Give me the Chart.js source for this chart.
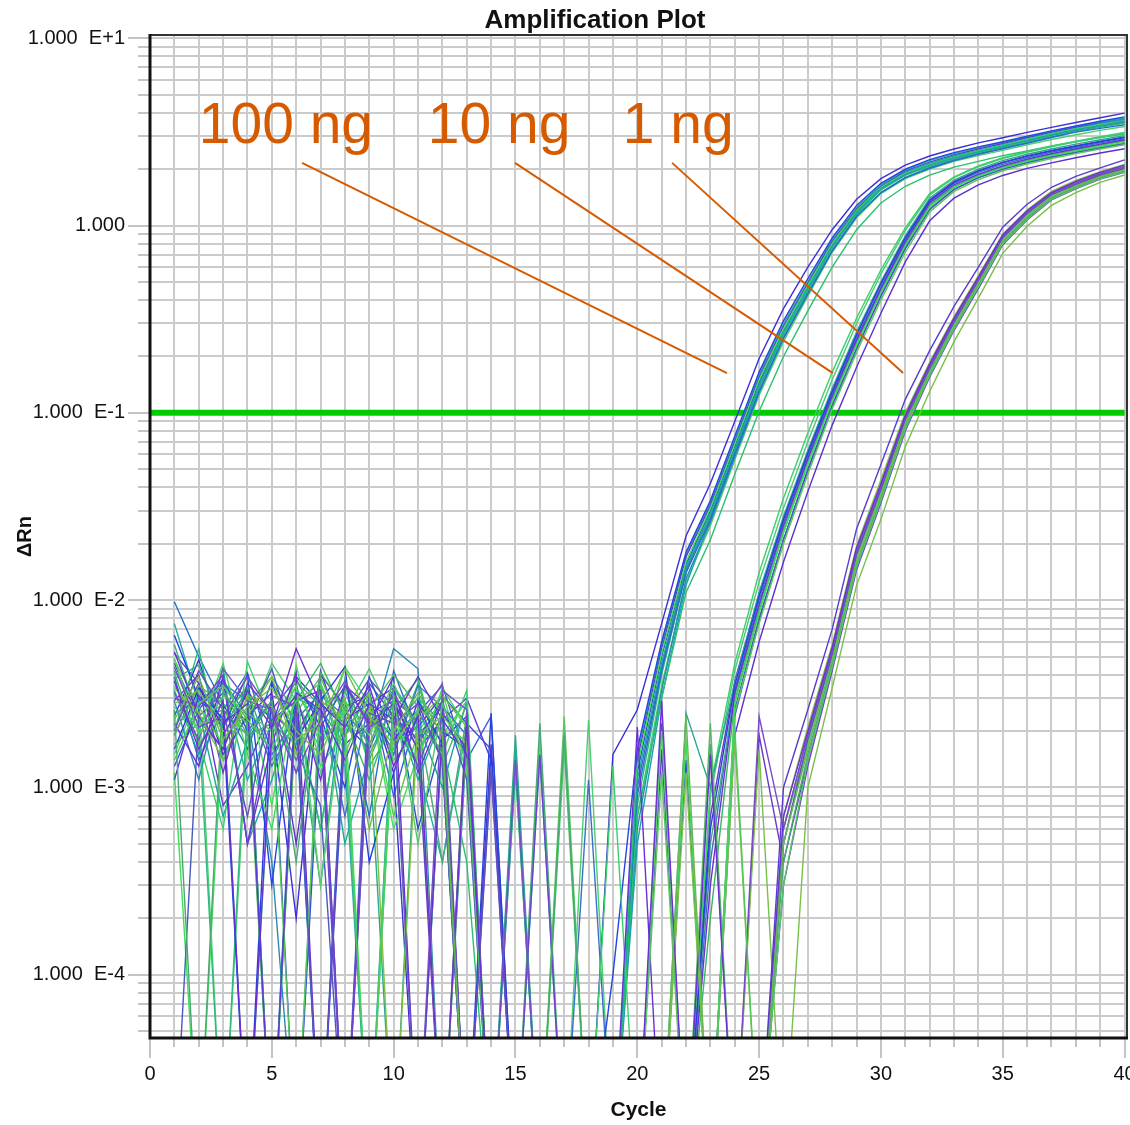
<!DOCTYPE html>
<html>
<head>
<meta charset="utf-8">
<script src="https://cdn.jsdelivr.net/npm/chart.js@4.4.1/dist/chart.umd.min.js"></script>
<style>
  html, body { margin: 0; padding: 0; background: #ffffff; }
  #wrap { width: 1130px; height: 1125px; position: relative; }
</style>
</head>
<body>
<div id="wrap"><canvas id="c"></canvas></div>
<script>
// ---------------- data ----------------
const z = 1e-5; // ΔRn at or below zero: falls below the log axis

const cycles = [1,2,3,4,5,6,7,8,9,10,11,12,13,14,15,16,17,18,19,20,
                21,22,23,24,25,26,27,28,29,30,31,32,33,34,35,36,37,38,39,40];

// 100 ng wells
const ng100 = [
 [4.2e-3,2.6e-3,7e-4,1.8e-3,2.9e-3,1.2e-3,3.4e-3,5e-4,1.5e-3,2.8e-3, 1.1e-3,2.4e-3,z,z,1.6e-3,z,z,z,z,1.1e-3, 4.6e-3,.015,.029,.064,.14,.27,.46,.78,1.18,1.58, 1.88,2.1,2.3,2.48,2.65,2.85,3.05,3.25,3.42,3.6],
 [2e-3,5.5e-3,1.4e-3,2.5e-3,z,2.7e-3,6e-4,3.6e-3,1.3e-3,2.1e-3, 3e-3,1.7e-3,4e-4,z,z,z,z,z,z,7e-4, 3e-3,.011,.021,.047,.102,.2,.35,.6,.95,1.32, 1.62,1.86,2.05,2.2,2.36,2.5,2.66,2.8,2.95,3.08],
 [6.5e-3,3e-3,2.1e-3,4e-3,3e-4,3.3e-3,2.4e-3,1e-3,3.9e-3,1.8e-3, 2.6e-3,1.4e-3,z,2.5e-3,z,z,z,z,1e-4,1.6e-3, 6e-3,.018,.034,.075,.165,.31,.52,.86,1.28,1.68, 2.0,2.25,2.45,2.63,2.8,3.0,3.2,3.4,3.6,3.8],
 [1.2e-3,z,2.3e-3,3.5e-3,8e-4,4.5e-3,1.3e-3,2e-3,3e-3,6e-4, 1.5e-3,3.2e-3,1.2e-3,z,z,1.8e-3,z,z,z,1.3e-3, 5.2e-3,.016,.031,.068,.15,.28,.48,.8,1.2,1.6, 1.9,2.12,2.32,2.5,2.68,2.88,3.08,3.28,3.45,3.62],
 [9.8e-3,5e-3,2.8e-3,1.6e-3,3.7e-3,2.2e-3,z,2.9e-3,7e-4,4.2e-3, 1.9e-3,2.7e-3,z,z,z,z,z,z,z,9e-4, 4.2e-3,.014,.027,.06,.13,.25,.43,.73,1.12,1.5, 1.8,2.02,2.22,2.4,2.57,2.75,2.95,3.15,3.3,3.45],
 [3.3e-3,1.5e-3,4.4e-3,5e-4,1.1e-3,3e-3,2.6e-3,1.7e-3,z,3.5e-3, 2.2e-3,1e-3,2.9e-3,z,z,z,2e-3,z,z,5e-4, 3e-3,.012,.027,.062,.14,.27,.47,.79,1.2,1.6, 1.92,2.15,2.35,2.52,2.7,2.9,3.1,3.3,3.5,3.68],
 [2.4e-3,4.8e-3,1.9e-3,3.2e-3,2.3e-3,2e-4,4e-3,2.7e-3,3.1e-3,1.2e-3, z,2e-3,1.6e-3,z,z,z,z,z,1.5e-3,2.6e-3, 7.5e-3,.022,.042,.09,.195,.36,.6,.95,1.38,1.78, 2.1,2.35,2.56,2.76,2.94,3.14,3.34,3.55,3.76,3.98],
 [1.7e-3,2.2e-3,z,2.8e-3,3.9e-3,2.5e-3,6e-4,3.4e-3,2.3e-3,1.6e-3, 3.6e-3,1.3e-3,z,z,1.2e-3,z,z,z,z,8e-4, 4e-3,.014,.028,.062,.135,.26,.45,.76,1.15,1.55, 1.85,2.08,2.28,2.45,2.62,2.8,3.0,3.18,3.35,3.52],
 [5.2e-3,3.6e-3,8e-4,1.3e-3,2.6e-3,3.8e-3,2.1e-3,z,2.5e-3,2.9e-3, 1.6e-3,2.3e-3,3e-3,1.4e-3,z,z,z,z,z,1.4e-3, 5.5e-3,.017,.032,.07,.155,.29,.49,.82,1.22,1.62, 1.95,2.18,2.38,2.56,2.74,2.94,3.14,3.34,3.52,3.7],
 [2.9e-3,1.1e-3,3.7e-3,2.4e-3,4e-4,z,3.1e-3,2.4e-3,1.9e-3,5.5e-3, 4.3e-3,z,1.8e-3,z,z,z,z,z,z,6e-4, 3.3e-3,.013,.026,.058,.128,.25,.44,.74,1.12,1.5, 1.8,2.04,2.24,2.42,2.6,2.78,2.98,3.18,3.36,3.55],
 [3.9e-3,1.4e-3,2.6e-3,4.1e-3,1.5e-3,2.4e-3,z,1.9e-3,3.3e-3,9e-4, 2.5e-3,3.5e-3,1.4e-3,2.4e-3,z,z,z,z,z,1e-3, 4.4e-3,.0145,.028,.061,.135,.26,.45,.77,1.16,1.56, 1.86,2.08,2.28,2.46,2.63,2.82,3.02,3.2,3.38,3.56],
 [7.5e-3,2.8e-3,3.5e-3,1.1e-3,2.2e-3,1.7e-3,3.6e-3,1.3e-3,z,2.2e-3, 1.3e-3,4e-4,2.1e-3,z,z,1.5e-3,z,z,z,1.5e-3, 5.8e-3,.0175,.033,.072,.16,.3,.5,.84,1.25,1.65, 1.98,2.22,2.42,2.6,2.78,2.97,3.17,3.37,3.56,3.76],
 [1.5e-3,3.2e-3,z,2.1e-3,4.6e-3,2.9e-3,1.6e-3,4.4e-3,2.8e-3,1.4e-3, 2e-3,2.9e-3,z,z,z,z,z,2.3e-3,z,7e-4, 3.5e-3,.0125,.025,.056,.124,.24,.42,.72,1.1,1.48, 1.78,2.0,2.2,2.36,2.52,2.7,2.88,3.05,3.22,3.38],
 [4.6e-3,2.3e-3,1.6e-3,3.4e-3,z,3.9e-3,2.8e-3,2.2e-3,1.6e-3,3.3e-3, 6e-4,1.8e-3,2.4e-3,z,1.3e-3,z,z,z,z,1.2e-3, 5e-3,.0155,.03,.066,.145,.275,.47,.79,1.19,1.59, 1.9,2.12,2.32,2.5,2.67,2.86,3.06,3.26,3.44,3.62]
];

// 10 ng wells
const ng10 = [
 [3.1e-3,2e-3,4.6e-3,1.5e-3,6e-4,3.3e-3,1.9e-3,2.6e-3,z,2.2e-3, 1.4e-3,3.4e-3,2.1e-3,z,z,z,z,z,z,z, z,1.8e-3,z,2.8e-3,8.5e-3,.023,.053,.115,.23,.44, .78,1.25,1.6,1.83,2.03,2.2,2.36,2.5,2.64,2.78],
 [1.6e-3,3.4e-3,2.3e-3,z,3.6e-3,1.8e-3,2.9e-3,4.4e-3,4e-4,1.2e-3, 2.9e-3,1.7e-3,z,1.5e-3,z,z,z,z,z,z, z,z,6e-4,3.5e-3,.0105,.027,.061,.13,.26,.49, .86,1.36,1.7,1.95,2.16,2.34,2.5,2.65,2.8,2.95],
 [4.8e-3,2.7e-3,1.7e-3,3e-3,2.4e-3,z,3.5e-3,1.5e-3,3.2e-3,7e-4, 2e-3,z,2.6e-3,z,z,z,2.4e-3,z,z,z, 1.2e-3,z,z,2.5e-3,7.5e-3,.02,.047,.105,.21,.4, .72,1.18,1.52,1.76,1.96,2.13,2.28,2.42,2.56,2.7],
 [2.2e-3,1.3e-3,3.9e-3,5e-4,1.7e-3,4.1e-3,z,2.3e-3,2.8e-3,3.4e-3, 1.2e-3,2.5e-3,1.6e-3,z,z,z,z,z,z,2.1e-3, z,z,3e-4,3.2e-3,9.5e-3,.025,.057,.123,.245,.46, .82,1.32,1.65,1.88,2.08,2.26,2.42,2.57,2.72,2.87],
 [3.8e-3,4.5e-3,2.1e-3,3.3e-3,1.4e-3,2.6e-3,3e-4,3.8e-3,1.6e-3,z, 3e-3,2.2e-3,z,z,1.9e-3,z,z,z,z,z, z,2.5e-3,1e-3,3.6e-3,.011,.028,.063,.135,.27,.5, .88,1.4,1.75,2.0,2.22,2.4,2.56,2.72,2.87,3.02],
 [z,2.4e-3,3.2e-3,2.2e-3,4.3e-3,1.6e-3,8e-4,z,3.6e-3,2.4e-3, 1.8e-3,2.9e-3,1.1e-3,z,z,z,z,z,z,z, z,z,z,2.6e-3,8e-3,.021,.049,.108,.22,.42, .75,1.22,1.56,1.8,2.0,2.17,2.32,2.46,2.6,2.74],
 [2.7e-3,1.8e-3,6e-4,4.7e-3,2.2e-3,3.1e-3,1.2e-3,2.8e-3,2.5e-3,1.9e-3, 2.5e-3,1.5e-3,3.3e-3,z,z,z,z,z,1.3e-3,z, z,z,1e-3,4.6e-3,.014,.035,.078,.165,.32,.58, .97,1.48,1.82,2.08,2.3,2.48,2.65,2.82,2.98,3.14],
 [1.9e-3,3.6e-3,1.5e-3,2.4e-3,3.2e-3,5e-4,4.2e-3,1.7e-3,2.2e-3,3.9e-3, z,2.1e-3,z,1.7e-3,z,z,z,z,z,z, 1.6e-3,z,z,1.9e-3,6e-3,.016,.038,.086,.175,.34, .64,1.06,1.4,1.65,1.85,2.02,2.16,2.3,2.44,2.57],
 [5.8e-3,2.3e-3,2.6e-3,1.9e-3,2.2e-3,3.7e-3,2.7e-3,3.3e-3,1.4e-3,2.9e-3, 2.3e-3,4e-4,2.4e-3,z,z,2.2e-3,z,z,z,z, z,z,5e-4,3.1e-3,9.2e-3,.024,.056,.12,.24,.45, .8,1.3,1.62,1.86,2.06,2.24,2.4,2.55,2.7,2.85],
 [2.5e-3,2.9e-3,3.6e-3,2.9e-3,1.3e-3,2.3e-3,3.2e-3,7e-4,2.9e-3,1.5e-3, 3.5e-3,2.7e-3,1.9e-3,z,z,z,z,1.1e-3,z,z, z,z,4e-4,3.3e-3,.01,.026,.059,.127,.25,.47, .84,1.34,1.68,1.92,2.12,2.3,2.46,2.61,2.76,2.9],
 [2.9e-3,4e-3,1.2e-3,3.6e-3,2.5e-3,1.9e-3,3.4e-3,z,2.1e-3,3.1e-3, 1.7e-3,2.8e-3,z,z,z,z,z,z,z,z, 2.2e-3,z,7e-4,3.7e-3,.0108,.027,.062,.132,.265,.49, .86,1.37,1.72,1.97,2.18,2.36,2.52,2.67,2.82,2.97],
 [4.1e-3,1.7e-3,2.4e-3,3.4e-3,z,2.9e-3,4.6e-3,2.4e-3,1.1e-3,2.6e-3, 3.8e-3,1.3e-3,2.8e-3,z,z,z,z,z,z,z, z,z,2e-4,2.9e-3,8.8e-3,.023,.054,.117,.235,.445, .79,1.28,1.61,1.85,2.05,2.22,2.38,2.53,2.68,2.82],
 [1.3e-3,2.6e-3,3.8e-3,2e-3,2.9e-3,z,2.1e-3,3.5e-3,2.7e-3,1.8e-3, 2.1e-3,3.1e-3,2.2e-3,1.6e-3,z,z,z,z,z,z, z,1.4e-3,z,2.4e-3,7.8e-3,.021,.05,.11,.22,.42, .76,1.22,1.56,1.8,2.0,2.17,2.32,2.46,2.6,2.74],
 [3.5e-3,2.2e-3,2.8e-3,z,1.9e-3,3.5e-3,1.7e-3,2.5e-3,4.3e-3,2.3e-3, z,1.9e-3,2.9e-3,z,z,z,1.6e-3,z,z,z, z,z,9e-4,4.2e-3,.0125,.031,.07,.15,.3,.55, .94,1.45,1.8,2.06,2.28,2.46,2.63,2.8,2.96,3.12]
];

// 1 ng wells
const ng1 = [
 [2.3e-3,3.9e-3,1.8e-3,2.7e-3,3.4e-3,2e-3,1.5e-3,3e-3,6e-4,2e-3, 3.2e-3,1.9e-3,z,z,z,z,z,z,z,z, z,2.4e-3,z,z,z,5e-4,1.6e-3,4.8e-3,.016,.036, .086,.165,.29,.49,.83,1.12,1.42,1.62,1.82,1.98],
 [3.7e-3,1.6e-3,2.9e-3,z,2.1e-3,5.5e-3,2.8e-3,2.1e-3,3.5e-3,1.3e-3, 2.4e-3,z,2.2e-3,z,z,z,z,z,z,z, 2.9e-3,z,1.5e-3,z,z,7e-4,2e-3,5.6e-3,.019,.042, .097,.182,.32,.53,.89,1.2,1.5,1.72,1.92,2.1],
 [1.4e-3,2.8e-3,3.5e-3,2.3e-3,1.6e-3,2.9e-3,3.6e-3,1.8e-3,z,3.1e-3, 5e-4,2.8e-3,1.4e-3,z,z,z,z,z,z,z, z,z,z,2.1e-3,z,3e-4,1.4e-3,4.4e-3,.015,.034, .082,.158,.28,.47,.8,1.08,1.38,1.58,1.78,1.93],
 [4.4e-3,2.1e-3,2.4e-3,3.9e-3,2.5e-3,1.2e-3,2.3e-3,3.7e-3,2.1e-3,2.5e-3, z,3.3e-3,2.6e-3,z,1.4e-3,z,z,z,z,z, z,z,z,z,2.4e-3,6e-4,1.9e-3,5.3e-3,.018,.04, .094,.176,.31,.51,.87,1.17,1.47,1.68,1.88,2.05],
 [2.6e-3,z,3.3e-3,1.9e-3,2.9e-3,4e-4,4.1e-3,2.6e-3,1.7e-3,3.4e-3, 2.1e-3,1.6e-3,z,z,z,z,1.9e-3,z,z,z, z,z,1.7e-3,z,z,4e-4,1.5e-3,4.6e-3,.0155,.035, .084,.16,.285,.48,.82,1.1,1.4,1.6,1.8,1.95],
 [1.1e-3,3.1e-3,2.2e-3,2.8e-3,z,3.2e-3,2.6e-3,1.4e-3,2.8e-3,2.3e-3, 3.9e-3,2.3e-3,1.5e-3,z,z,z,z,z,z,z, z,z,z,z,z,1e-3,2.6e-3,7e-3,.024,.053, .118,.215,.37,.6,.98,1.3,1.6,1.83,2.03,2.24],
 [3.4e-3,2.5e-3,1.4e-3,3.1e-3,2.7e-3,1.8e-3,2.2e-3,4.3e-3,2.4e-3,1.7e-3, 2.6e-3,z,2e-3,z,z,z,z,z,z,z, z,1.2e-3,z,z,1.6e-3,z,1e-3,3.4e-3,.012,.027, .066,.13,.24,.41,.71,.99,1.28,1.5,1.7,1.86],
 [2e-3,4.2e-3,2.6e-3,7e-4,3.1e-3,2.7e-3,z,2.4e-3,3.8e-3,2.7e-3, 1.3e-3,2.9e-3,z,1.2e-3,z,z,z,z,z,z, z,z,z,z,z,5e-4,1.8e-3,5.1e-3,.0175,.039, .092,.172,.305,.51,.86,1.16,1.46,1.66,1.86,2.02],
 [4.9e-3,1.9e-3,3.1e-3,2.5e-3,2e-3,3.5e-3,3e-4,2.9e-3,1.9e-3,3.6e-3, 1.9e-3,2.4e-3,1.7e-3,z,z,z,z,z,z,z, 2e-3,z,z,z,z,6e-4,1.7e-3,5e-3,.017,.038, .09,.17,.3,.5,.85,1.15,1.45,1.66,1.87,2.04],
 [3e-3,2.7e-3,4e-3,5e-4,2.3e-3,2.9e-3,3.3e-3,z,2.5e-3,2.2e-3, 2.8e-3,1.4e-3,z,z,z,1.5e-3,z,z,z,z, z,z,z,z,z,3e-4,1.3e-3,4.2e-3,.0145,.033, .08,.155,.275,.46,.79,1.07,1.37,1.57,1.77,1.92],
 [2.8e-3,3.3e-3,2e-3,2.4e-3,3.9e-3,1.5e-3,2.9e-3,2.3e-3,3.2e-3,z, 2.3e-3,3.1e-3,2.1e-3,z,z,z,z,z,z,z, z,z,z,1.8e-3,z,7e-4,2.1e-3,5.8e-3,.0195,.044, .1,.186,.325,.54,.9,1.21,1.52,1.74,1.94,2.12],
 [5.3e-3,2.4e-3,1.6e-3,3.3e-3,2.1e-3,3.1e-3,1.1e-3,3.5e-3,2.2e-3,2.8e-3, 1.6e-3,z,2.5e-3,z,z,z,z,z,z,z, z,z,z,z,1.9e-3,4e-4,1.4e-3,4.4e-3,.015,.034, .082,.158,.28,.47,.8,1.09,1.39,1.59,1.79,1.94],
 [1.9e-3,3.5e-3,2.8e-3,2.2e-3,z,2.5e-3,3.9e-3,1.9e-3,2.6e-3,4e-3, 2.7e-3,2e-3,1.8e-3,z,z,z,z,z,z,z, z,z,2.2e-3,z,z,5e-4,1.7e-3,5e-3,.0168,.037, .088,.168,.298,.5,.85,1.14,1.44,1.64,1.84,2.0],
 [3.2e-3,1.8e-3,4.3e-3,2.9e-3,2.6e-3,1.4e-3,2.7e-3,z,2e-3,3.1e-3, 2.2e-3,3.6e-3,z,1.3e-3,z,z,z,z,z,z, z,z,z,z,z,6e-4,1.9e-3,5.4e-3,.0182,.041, .096,.18,.315,.52,.88,1.18,1.49,1.7,1.9,2.07]
];

const threshold = 0.1;

const annotLabels = ['100 ng', '10 ng', '1 ng'];
const annotTextCycle = [2.0, 11.4, 19.4];
const annotTextDeltaRn = 2.75;
const leaderFromCycle = [6.24, 14.98, 21.43];
const leaderToCycle = [23.68, 28.03, 30.91];
const leaderFromDeltaRn = 2.16;
const leaderToDeltaRn = 0.163;

// ---------------- styles ----------------
const colors100 = ['#1fa89a','#27c26e','#2346e0','#3fe05a','#2270c8','#1c9fb0','#3b2fd8','#30b880','#5d3fd0','#2a88b8','#3560d8','#22b0a0','#4ad070','#2a50c0'];
const colors10  = ['#3fdc5a','#2440e0','#58c858','#6a2fd6','#2aa890','#4a5ac0','#3ad06a','#5a30d0','#48a878','#3a70c8','#6040c8','#38b860','#3550d8','#50c878'];
const colors1   = ['#6ab850','#6a2fd6','#50c860','#7a4ac8','#4aa870','#5a3ad0','#78c048','#6050b8','#58d068','#7040d0','#80c040','#6838c8','#5cb860','#7458c0'];
const annotColor = '#d65a00';
const FONT = '"Liberation Sans", Arial, Helvetica, sans-serif';

function isDecade(v) {
  const l = Math.log10(v);
  return Math.abs(l - Math.round(l)) < 1e-9;
}

const datasets = [];
function addGroup(group, colors) {
  group.forEach((curve, k) => {
    datasets.push({
      data: cycles.map((c, i) => ({ x: c, y: curve[i] })),
      borderColor: colors[k % colors.length],
      borderWidth: 1.4,
      pointRadius: 0,
      tension: 0,
      order: 0
    });
  });
}
addGroup(ng1, colors1);
addGroup(ng10, colors10);
addGroup(ng100, colors100);

datasets.push({
  data: [{ x: 0, y: threshold }, { x: 40, y: threshold }],
  borderColor: '#00cc00', borderWidth: 6, pointRadius: 0, order: 5
});
leaderFromCycle.forEach((c, i) => {
  datasets.push({
    data: [{ x: c, y: leaderFromDeltaRn }, { x: leaderToCycle[i], y: leaderToDeltaRn }],
    borderColor: annotColor, borderWidth: 2, pointRadius: 0, order: -1
  });
});

const extras = {
  id: 'extras',
  afterDatasetsDraw(chart) {
    const { ctx, scales: { x, y } } = chart;
    ctx.save();
    ctx.fillStyle = annotColor;
    ctx.font = '57px ' + FONT;
    ctx.textAlign = 'left';
    ctx.textBaseline = 'alphabetic';
    annotLabels.forEach((t, i) => {
      ctx.fillText(t, x.getPixelForValue(annotTextCycle[i]), y.getPixelForValue(annotTextDeltaRn));
    });
    ctx.restore();
  },
  afterDraw(chart) {
    const { ctx, chartArea: a, scales: { x, y } } = chart;
    ctx.save();
    ctx.strokeStyle = '#c4c4c4';
    ctx.lineWidth = 2;
    ctx.beginPath();
    x.ticks.forEach(t => {
      if (t.value % 5 !== 0) {
        const px = Math.round(x.getPixelForValue(t.value));
        ctx.moveTo(px, a.bottom); ctx.lineTo(px, a.bottom + 9);
      }
    });
    y.ticks.forEach(t => {
      if (!isDecade(t.value)) {
        const py = Math.round(y.getPixelForValue(t.value));
        ctx.moveTo(a.left - 12, py); ctx.lineTo(a.left, py);
      }
    });
    ctx.stroke();
    // frame
    ctx.strokeStyle = '#333';
    ctx.lineWidth = 2;
    ctx.beginPath();
    ctx.moveTo(a.left, a.top); ctx.lineTo(a.right, a.top); ctx.lineTo(a.right, a.bottom);
    ctx.stroke();
    ctx.strokeStyle = '#111';
    ctx.lineWidth = 3;
    ctx.beginPath();
    ctx.moveTo(a.left, a.top - 1); ctx.lineTo(a.left, a.bottom); ctx.lineTo(a.right + 1, a.bottom);
    ctx.stroke();
    // title
    ctx.fillStyle = '#111';
    ctx.font = 'bold 26px ' + FONT;
    ctx.textAlign = 'center';
    ctx.textBaseline = 'alphabetic';
    ctx.fillText('Amplification Plot', 595, 28);
    ctx.restore();
  }
};

new Chart(document.getElementById('c'), {
  type: 'line',
  data: { datasets },
  plugins: [extras],
  options: {
    responsive: true,
    maintainAspectRatio: false,
    animation: false,
    events: [],
    layout: { autoPadding: false, padding: { top: 35, right: 3, left: 0, bottom: 0 } },
    plugins: { legend: { display: false }, tooltip: { enabled: false }, title: { display: false } },
    scales: {
      x: {
        type: 'linear',
        min: 0, max: 40.1,
        afterFit(scale) { scale.height = 87; scale.paddingLeft = 0; scale.paddingRight = 0; },
        border: { display: false },
        grid: {
          color: '#cbcbcb', lineWidth: 2, tickLength: 20,
          tickColor: ctx => (ctx.tick && ctx.tick.value % 5 === 0) ? '#c4c4c4' : 'rgba(0,0,0,0)',
          tickWidth: 2
        },
        ticks: {
          stepSize: 1, autoSkip: false, maxRotation: 0, includeBounds: false,
          padding: 4, color: '#111',
          font: { family: FONT, size: 20 },
          callback: v => (v % 5 === 0 ? String(v) : '')
        },
        title: {
          display: true, text: 'Cycle', color: '#111',
          font: { family: FONT, size: 21, weight: 'bold' },
          padding: { top: 0, bottom: 2 }
        }
      },
      y: {
        type: 'logarithmic',
        min: 4.6e-5, max: 10.4,
        afterFit(scale) { scale.width = 150; scale.paddingTop = 0; scale.paddingBottom = 0; },
        afterBuildTicks(scale) {
          const t = [];
          for (let e = -5; e <= 1; e++) {
            for (let m = 1; m <= 9; m++) {
              const v = m * Math.pow(10, e);
              if (v >= scale.min && v <= scale.max) t.push({ value: v });
            }
          }
          scale.ticks = t;
        },
        border: { display: false },
        grid: {
          color: '#cbcbcb', lineWidth: 2, tickLength: 22,
          tickColor: ctx => (ctx.tick && isDecade(ctx.tick.value)) ? '#c4c4c4' : 'rgba(0,0,0,0)',
          tickWidth: 2
        },
        ticks: {
          autoSkip: false, padding: 3, color: '#111',
          font: { family: FONT, size: 20 },
          callback: v => {
            if (!isDecade(v)) return '';
            const e = Math.round(Math.log10(v));
            if (e === 0) return '1.000';
            return '1.000  E' + (e > 0 ? '+' : '') + e;
          }
        },
        title: {
          display: true, text: 'ΔRn', color: '#111',
          font: { family: FONT, size: 20, weight: 'bold' },
          padding: { top: 13, bottom: 0 }
        }
      }
    }
  }
});
</script>
</body>
</html>
